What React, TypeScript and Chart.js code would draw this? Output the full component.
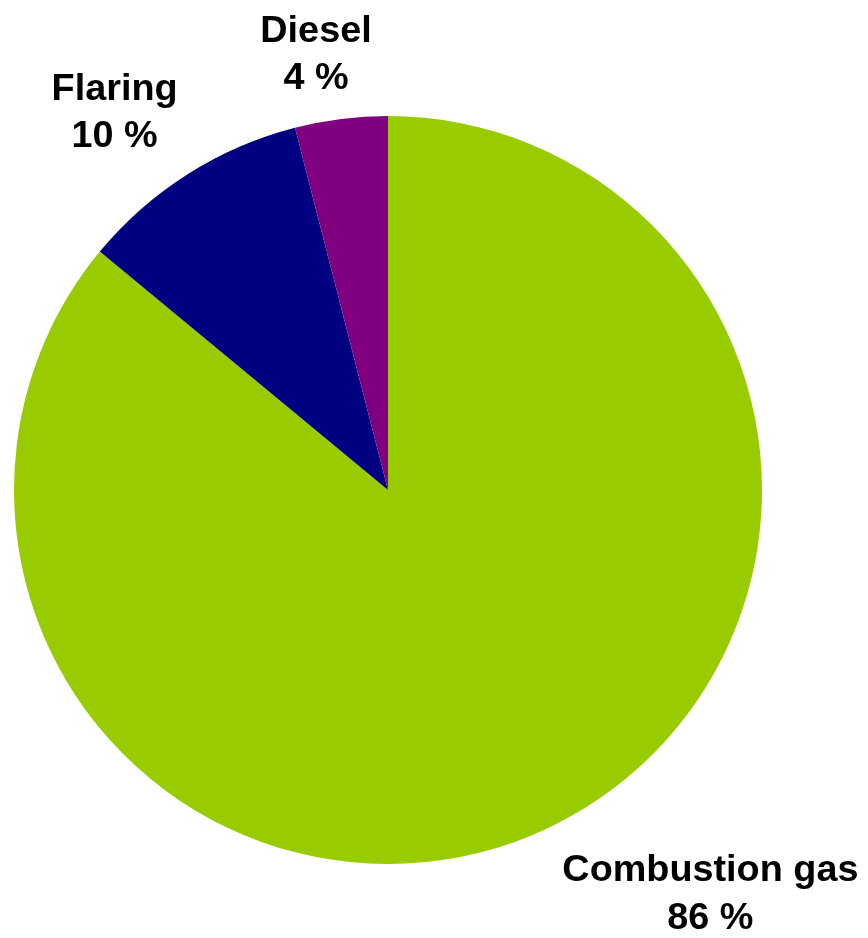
import React, { useEffect, useRef } from "react";
import { Chart, registerables } from "chart.js";

Chart.register(...registerables);

const categories = ["Combustion gas", "Flaring", "Diesel"];
const shares = [86, 10, 4];
const valueLabels = ["86 %", "10 %", "4 %"];
const colors = ["#99CC00", "#000080", "#800080"];

// label anchor in units of the pie radius, relative to pie centre (x of text centre, y of first baseline)
const labelAnchors = [
  { dx: 0.862, dy: 1.0455 },
  { dx: -0.731, dy: -1.044 },
  { dx: -0.1925, dy: -1.198 },
];

const pieLabels = {
  id: "pieLabels",
  afterDraw(chart: any) {
    const meta = chart.getDatasetMeta(0);
    const ctx = chart.ctx;
    ctx.save();
    ctx.fillStyle = "#000000";
    ctx.font = "bold 36px 'Liberation Sans', Arial, sans-serif";
    ctx.textAlign = "center";
    ctx.textBaseline = "alphabetic";
    meta.data.forEach((arc: any, i: number) => {
      const { x, y, outerRadius } = arc.getProps(["x", "y", "outerRadius"], true);
      const a = labelAnchors[i];
      const lx = x + a.dx * outerRadius;
      const ly = y + a.dy * outerRadius;
      const lines = [categories[i], valueLabels[i]];
      lines.forEach((t, j) => {
        ctx.save();
        ctx.translate(lx, ly + j * 47.5);
        ctx.scale(1.05, 1);
        ctx.fillText(t, 0, 0);
        ctx.restore();
      });
    });
    ctx.restore();
  },
};

export default function App() {
  const ref = useRef<HTMLCanvasElement>(null);
  useEffect(() => {
    if (!ref.current) return;
    const chart = new Chart(ref.current, {
      type: "pie",
      data: {
        labels: categories,
        datasets: [
          {
            data: shares,
            backgroundColor: colors,
            borderWidth: 0,
          },
        ],
      },
      options: {
        responsive: false,
        animation: false,
        layout: { padding: { left: 14, top: 116, right: 106, bottom: 74 } },
        plugins: {
          legend: { display: false },
          tooltip: { enabled: false },
          title: { display: false },
        },
      },
      plugins: [pieLabels],
    });
    return () => chart.destroy();
  }, []);
  return (
    <div style={{ position: "absolute", left: 0, top: 0, width: 868, height: 938, background: "#ffffff" }}>
      <canvas ref={ref} width={868} height={938} />
    </div>
  );
}
